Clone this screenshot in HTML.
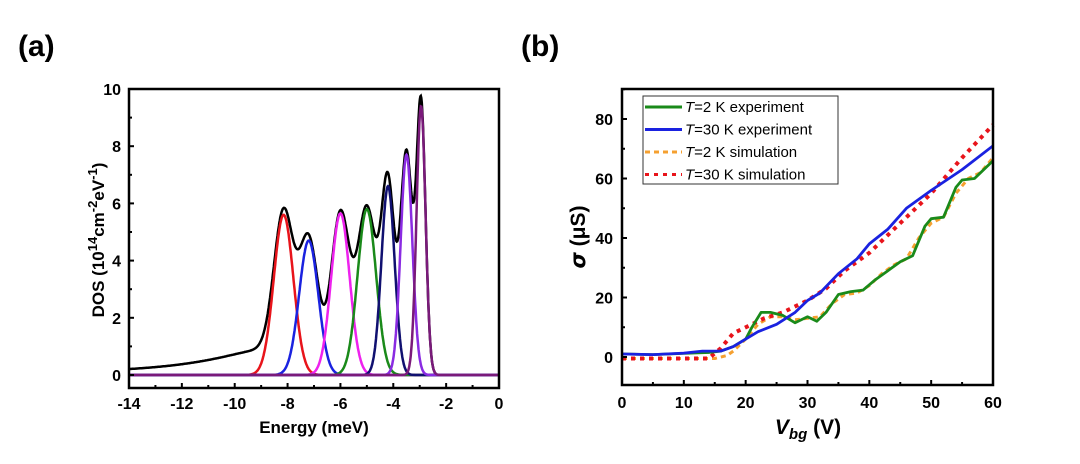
<!DOCTYPE html>
<html><head><meta charset="utf-8"><style>
body{margin:0;background:#fff;width:1080px;height:459px;overflow:hidden;font-family:"Liberation Sans",sans-serif}
svg text{font-family:"Liberation Sans",sans-serif}
</style></head><body>
<svg id="s" width="1080" height="459">
<text x="18" y="56" font-size="30" font-weight="bold">(a)</text>
<text x="521" y="56" font-size="30" font-weight="bold">(b)</text>
<g id="ga"></g>
<g id="gb"></g>
</svg>
<script>
// Panel (a) data: Landau-level peaks
const peakCenters=[-8.15,-7.2,-6.0,-5.0,-4.2,-3.5,-2.95];
const peakHeights=[5.6,4.7,5.65,5.8,6.6,7.7,9.4];
const peakWidths=[0.37,0.36,0.35,0.35,0.25,0.22,0.17];
const peakColors=['#e8141b','#1a22e0','#ee22ee','#1a8a1a','#101070','#8a2be2','#7a1a7a'];
const tailAmp=1.0, tailCenter=-8.15, tailGamma=3.0, tailCut=-8.6;
const xTicksA=[-14,-12,-10,-8,-6,-4,-2,0];
const yTicksA=[0,2,4,6,8,10];
// Panel (b) data
const xTicksB=[0,10,20,30,40,50,60];
const yTicksB=[0,20,40,60,80];
const vGreen=[0,5,10,14,16,18,20,21,22.5,24,26,28,30,31.5,33,35,37,39,41,43,45,47,49,50,52,54,55,57,60];
const sGreen=[1,0.8,1.2,1.5,2,3.5,6,10,15,15,14,11.5,13.5,12,15,21,22,22.5,26,29,32,34,44,46.5,47,57,59.5,60,66];
const vBlue=[0,5,10,13,16,18,20,22,25,28,30,32,35,38,40,43,46,50,55,60];
const sBlue=[1,0.8,1.3,2,2,3.5,6,8.5,11,15,19,21.5,28,33,38,43,50,56,63,71];
const vOrange=[0,15,17,18,20,22,24,26,28,30,32,34,36,38,40,42,44,46,48,50,52,54,56,58,60];
const sOrange=[-0.5,-0.5,0.5,2,6,11,13.5,13.5,12.5,13,13.5,18,21,21.5,24,28,31,33,40,45,47,55,60,62,67];
const vRed=[0,14,16,18,20,23,26,30,33,36,40,45,50,55,60];
const sRed=[-0.5,-0.5,3,8,10,13,15,19,23,29,35,45,55,67,78];

const NS='http://www.w3.org/2000/svg';
function mk(p,t,a){const e=document.createElementNS(NS,t);for(const k in a)e.setAttribute(k,a[k]);p.appendChild(e);return e;}
function txt(p,x,y,s,a){const e=mk(p,'text',Object.assign({x:x,y:y},a));e.textContent=s;return e;}

// ---- Panel A
const ga=document.getElementById('ga');
const AX0=129,AX1=499,AY0=89,AY1=388;
const xa=v=>AX0+(v+14)/14*(AX1-AX0);
const ya=v=>375-v*28.6;
function gauss(x,i){const d=(x-peakCenters[i])/peakWidths[i];return peakHeights[i]*Math.exp(-0.5*d*d);}
function tail(x){const d=(x-tailCenter)/tailGamma;return tailAmp/(1+d*d)/(1+Math.exp((x-tailCut)/0.2));}
const N=800;
peakCenters.forEach((c,i)=>{let d='';for(let k=0;k<=N;k++){const x=-14+14*k/N;d+=(k?'L':'M')+xa(x).toFixed(1)+','+ya(gauss(x,i)).toFixed(1);}
 const p=mk(ga,'path',{d:d,fill:'none',stroke:peakColors[i],'stroke-width':2.5});
 
 });
{let d='';for(let k=0;k<=N;k++){const x=-14+14*k/N;let s=tail(x);peakCenters.forEach((c,i)=>s+=gauss(x,i));d+=(k?'L':'M')+xa(x).toFixed(1)+','+ya(s).toFixed(1);}
 const p=mk(ga,'path',{d:d,fill:'none',stroke:'#000','stroke-width':2.5});
 
 
 ga.insertBefore(p,ga.firstChild);}
mk(ga,'rect',{x:AX0,y:AY0,width:AX1-AX0,height:AY1-AY0,fill:'none',stroke:'#000','stroke-width':2.5});
for(let v=-14;v<=0;v++){const x=xa(v);mk(ga,'line',{x1:x,x2:x,y1:AY1,y2:AY1-(v%2?3:5),stroke:'#000','stroke-width':2});}
xTicksA.forEach(v=>{const t=txt(ga,xa(v),409,String(v),{'font-size':16,'font-weight':'bold','text-anchor':'middle'});});
for(let v=0;v<=10;v++){const y=ya(v);mk(ga,'line',{x1:AX0,x2:AX0+(v%2?3:5),y1:y,y2:y,stroke:'#000','stroke-width':2});}
yTicksA.forEach(v=>{const t=txt(ga,121,ya(v)+6,String(v),{'font-size':16,'font-weight':'bold','text-anchor':'end'});});
{const t=txt(ga,314,433,'Energy (meV)',{'font-size':17,'font-weight':'bold','text-anchor':'middle'});}
{const t=mk(ga,'text',{x:0,y:0,'font-size':17,'font-weight':'bold','text-anchor':'middle',transform:'translate(104,240) rotate(-90)'});
 
 t.innerHTML='DOS (10<tspan font-size="13" dy="-7">14</tspan><tspan dy="7">cm</tspan><tspan font-size="13" dy="-7">-2</tspan><tspan dy="7">eV</tspan><tspan font-size="13" dy="-7">-1</tspan><tspan dy="7">)</tspan>';}

// ---- Panel B
const gb=document.getElementById('gb');
const BX0=622,BX1=993,BY0=89,BY1=385;
const xb=v=>BX0+v/60*(BX1-BX0);
const yb=v=>357-v*2.975;
function series(xs,ys,color,dash,w,name){let d='';xs.forEach((x,i)=>{d+=(i?'L':'M')+xb(x).toFixed(1)+','+yb(ys[i]).toFixed(1);});
 const a={d:d,fill:'none',stroke:color,'stroke-width':w,'stroke-linejoin':'round'};if(dash)a['stroke-dasharray']=dash;
 const p=mk(gb,'path',a);}
series(vOrange,sOrange,'#f5a030','5,4',3,'t2k-simulation-line');
series(vRed,sRed,'#e8141b','4,5',4,'t30k-simulation-line');
series(vGreen,sGreen,'#1a8a1a',null,2.8,'t2k-experiment-line');
series(vBlue,sBlue,'#1a22e0',null,2.8,'t30k-experiment-line');
mk(gb,'rect',{x:BX0,y:BY0,width:BX1-BX0,height:BY1-BY0,fill:'none',stroke:'#000','stroke-width':2.5});
for(let v=0;v<=60;v+=5){const x=xb(v);mk(gb,'line',{x1:x,x2:x,y1:BY1,y2:BY1-(v%10?3:5),stroke:'#000','stroke-width':2});}
xTicksB.forEach(v=>{const t=txt(gb,xb(v),408,String(v),{'font-size':16,'font-weight':'bold','text-anchor':'middle'});});
for(let v=0;v<=90;v+=10){const y=yb(v);if(y<BY0)continue;mk(gb,'line',{x1:BX0,x2:BX0+(v%20?3:5),y1:y,y2:y,stroke:'#000','stroke-width':2});}
yTicksB.forEach(v=>{const t=txt(gb,613,yb(v)+6,String(v),{'font-size':16,'font-weight':'bold','text-anchor':'end'});});
{const t=mk(gb,'text',{x:808,y:434,'font-size':21,'font-weight':'bold','text-anchor':'middle'});
 t.innerHTML='<tspan font-style="italic">V</tspan><tspan font-style="italic" font-size="15" dy="5">bg</tspan><tspan dy="-5"> (V)</tspan>';}
{const t=mk(gb,'text',{x:0,y:0,'font-size':21,'font-weight':'bold','text-anchor':'middle',transform:'translate(585,237) rotate(-90)'});
 t.innerHTML='<tspan font-style="italic" font-family="DejaVu Sans">σ</tspan> (μS)';}
// legend
const lg=mk(gb,'g',{});
mk(lg,'rect',{x:643,y:96,width:195,height:88,fill:'#fff',stroke:'#333','stroke-width':1});
const legItems=[['#1a8a1a',null,'2 K experiment'],['#1a22e0',null,'30 K experiment'],['#f5a030','5,4','2 K simulation'],['#e8141b','4,5','30 K simulation']];
legItems.forEach((it,i)=>{const y=107+i*22.5;const a={x1:645,x2:682,y1:y,y2:y,stroke:it[0],'stroke-width':3};if(it[1])a['stroke-dasharray']=it[1];mk(lg,'line',a);
 const t=mk(lg,'text',{x:685,y:y+5,'font-size':15});
 t.innerHTML='<tspan font-style="italic">T</tspan>='+it[2];});
</script>
</body></html>
